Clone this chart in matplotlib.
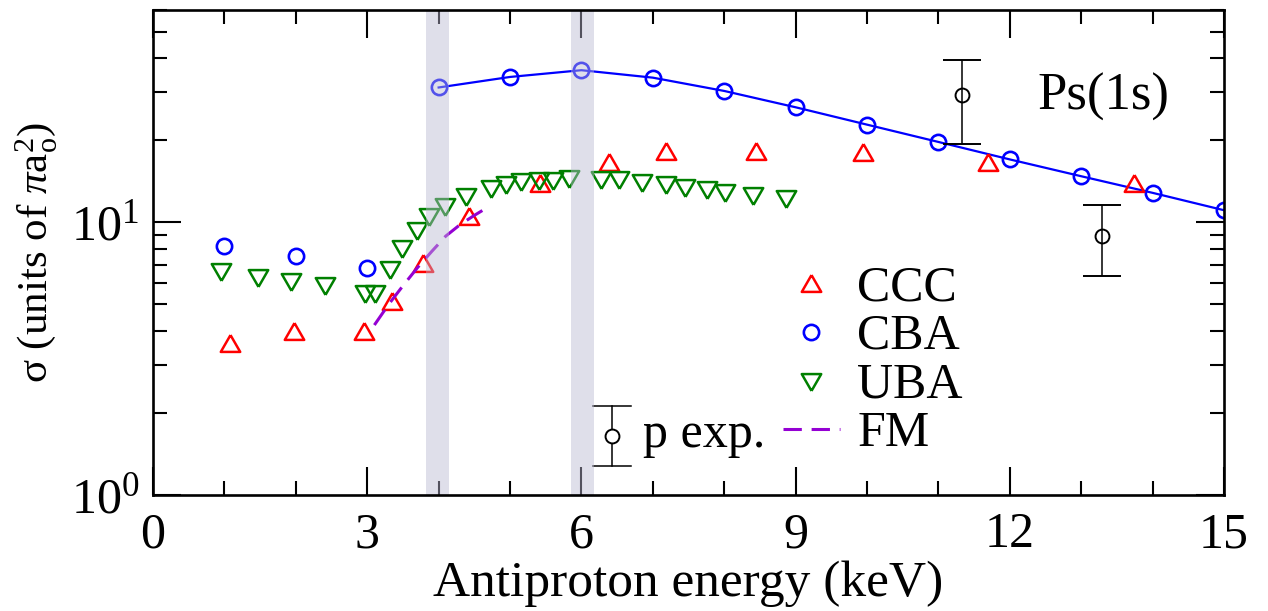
import numpy as np
import matplotlib
matplotlib.use("Agg")
import matplotlib.pyplot as plt
from matplotlib.ticker import LogLocator, NullFormatter, MultipleLocator

plt.rcParams['font.family'] = ['Liberation Serif', 'DejaVu Serif']
plt.rcParams['mathtext.fontset'] = 'custom'
plt.rcParams['mathtext.rm'] = 'Liberation Serif'
plt.rcParams['mathtext.it'] = 'Liberation Serif:italic'

# CCC
ccc_e = [1.08, 1.97, 2.96, 3.34, 3.78, 4.43, 5.42, 6.38, 7.19, 8.45, 9.95, 11.69, 13.74]
ccc_s = [3.62, 3.98, 3.98, 5.16, 7.10, 10.58, 13.95, 16.7, 18.2, 18.2, 18.1, 16.6, 13.95]

# CBA, low-energy points (no curve) and the curve points
cba_low_e = [1, 2, 3]
cba_low_s = [8.21, 7.50, 6.80]
cba_e = [4, 5, 6, 7, 8, 9, 10, 11, 12, 13, 14, 15]
cba_s = [31.2, 34.1, 36.1, 33.9, 30.3, 26.4, 22.8, 19.7, 17.0, 14.75, 12.82, 11.07]

# UBA
uba_e = [0.95, 1.47, 1.93, 2.41, 2.97, 3.11, 3.32, 3.48, 3.69, 3.87, 4.09, 4.39, 4.74,
         4.94, 5.15, 5.41, 5.60, 5.82, 6.28, 6.52, 6.85, 7.19, 7.45, 7.76, 8.01, 8.40, 8.87]
uba_s = [6.55, 6.25, 6.03, 5.82, 5.45, 5.45, 6.70, 7.98, 9.32, 10.43, 11.35, 12.39, 13.26,
         13.68, 14.07, 14.15, 14.2, 14.35, 14.27, 14.27, 13.95, 13.75, 13.37, 13.1, 12.82, 12.46, 12.12]

# FM
fm_e = [3.1, 3.3, 3.5, 3.7, 3.9, 4.1, 4.3, 4.5, 4.7]
fm_s = [4.2, 5.0, 5.85, 6.8, 7.8, 8.9, 9.8, 10.6, 11.4]

# experiment
exp_e = [11.33, 13.29]
exp_s = [29.4, 8.94]
exp_err = [10.0, 2.6]

bands = [(3.83, 4.15), (5.85, 6.17)]

# equilateral triangles, centred on their bounding box
tri_up = [(0, 0.5), (-0.577, -0.5), (0.577, -0.5), (0, 0.5)]
tri_dn = [(0, -0.5), (-0.577, 0.5), (0.577, 0.5), (0, -0.5)]

fig = plt.figure(figsize=(12.68, 6.11), dpi=100)
ax = fig.add_axes([0.1207, 0.1898, 0.8446, 0.7938])

ax.plot(cba_e, cba_s, '-', color='blue', lw=1.6, zorder=2)
ax.plot(cba_e, cba_s, 'o', ms=11, mfc='none', mec='blue', mew=1.9, zorder=2)
ax.plot(cba_low_e, cba_low_s, 'o', ms=11, mfc='none', mec='blue', mew=1.9, zorder=2)
ax.plot(ccc_e, ccc_s, ls='none', marker=tri_up, ms=14, mfc='none', mec='red', mew=1.8, zorder=2)
ax.plot(uba_e, uba_s, ls='none', marker=tri_dn, ms=14, mfc='none', mec='green', mew=1.8, zorder=2)
ax.plot(fm_e, fm_s, color='darkviolet', lw=2.2, dashes=(6, 3.2), zorder=2)
ax.errorbar(exp_e, exp_s, yerr=exp_err, fmt='o', ms=10, mfc='none', mec='black', mew=1.4,
            ecolor='black', elinewidth=1.1, capsize=13.5, capthick=1.1, zorder=4)

for lo, hi in bands:
    ax.axvspan(lo, hi, color='#bab8d2', alpha=0.45, lw=0, zorder=3)

ax.set_xlim(0, 15)
ax.set_yscale('log')
ax.set_ylim(1, 60)
ax.xaxis.set_major_locator(MultipleLocator(3))
ax.xaxis.set_minor_locator(MultipleLocator(1))
ax.yaxis.set_major_locator(LogLocator(base=10))
ax.yaxis.set_minor_locator(LogLocator(base=10, subs=np.arange(2, 10)))
ax.yaxis.set_minor_formatter(NullFormatter())

ax.tick_params(which='both', direction='in', top=True, right=True, width=1.5, labelsize=36)
ax.tick_params(which='major', length=20)
ax.tick_params(which='minor', length=10)
ax.tick_params(axis='x', pad=12)
ax.tick_params(axis='y', pad=10)
for sp in ax.spines.values():
    sp.set_linewidth(1.9)
    sp.set_zorder(4)

ax.set_xlabel('Antiproton energy (keV)', fontsize=37, labelpad=2)
ax.set_ylabel(r'σ (units of $\pi\mathrm{a}_\mathrm{o}^2$)', fontsize=31, labelpad=8)

ax.text(0.826, 0.794, 'Ps(1s)', transform=ax.transAxes, fontsize=38, va='baseline')

# legend keys
T = ax.transAxes
kx, tx = 0.614, 0.657
ax.plot([kx], [0.437], transform=T, marker=tri_up, ms=14, mfc='none', mec='red', mew=1.8, clip_on=False)
ax.plot([kx], [0.336], transform=T, marker='o', ms=11, mfc='none', mec='blue', mew=1.9, clip_on=False)
ax.plot([kx], [0.233], transform=T, marker=tri_dn, ms=14, mfc='none', mec='green', mew=1.8, clip_on=False)
ax.text(tx, 0.402, 'CCC', transform=T, fontsize=36, va='baseline')
ax.text(tx, 0.303, 'CBA', transform=T, fontsize=36, va='baseline')
ax.text(tx, 0.202, 'UBA', transform=T, fontsize=36, va='baseline')

ex, ey, eh, ew = 0.4287, 0.1216, 0.0619, 0.0177
ax.plot([ex, ex], [ey - eh, ey + eh], transform=T, color='black', lw=1.1)
ax.plot([ex - ew, ex + ew], [ey + eh, ey + eh], transform=T, color='black', lw=1.1)
ax.plot([ex - ew, ex + ew], [ey - eh, ey - eh], transform=T, color='black', lw=1.1)
ax.plot([ex], [ey], transform=T, marker='o', ms=10, mfc='white', mec='black', mew=1.4)
ax.text(0.4575, 0.099, 'p exp.', transform=T, fontsize=36, va='baseline')
ax.plot([0.588, 0.641], [0.136, 0.136], transform=T, color='darkviolet', lw=2.2, dashes=(6, 3.2))
ax.text(0.658, 0.101, 'FM', transform=T, fontsize=36, va='baseline')

fig.savefig('out.png', dpi=100)
